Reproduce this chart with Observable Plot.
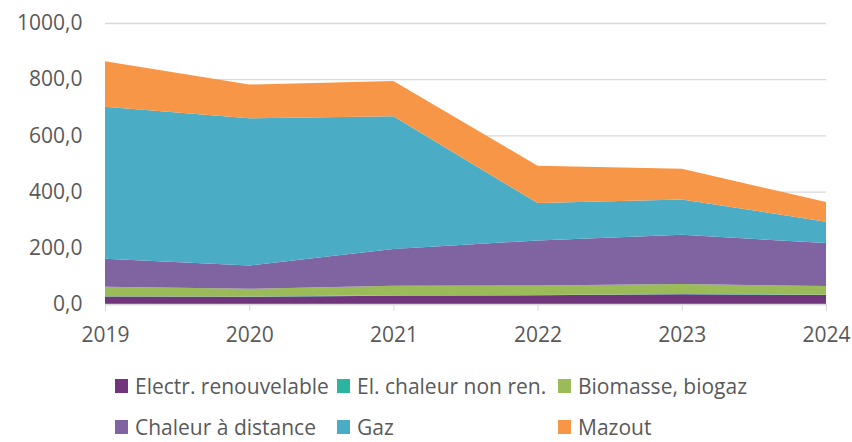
<!DOCTYPE html>
<html><head><meta charset="utf-8">
<script src="https://cdn.jsdelivr.net/npm/d3@7"></script>
<script src="https://cdn.jsdelivr.net/npm/@observablehq/plot@0.6"></script>
<style>
body{margin:0;background:#fff;font-family:"Open Sans",sans-serif;}
#wrap{position:relative;width:852px;height:442px;overflow:hidden;}
.leg{position:absolute;display:flex;align-items:center;font-size:21px;color:#595959;white-space:nowrap;line-height:1;height:22px;}
.leg i{display:inline-block;width:13px;height:14px;margin-right:7px;}
</style>
</head><body><div id="wrap"><div id="chart"></div></div>
<script>
const years = [2019, 2020, 2021, 2022, 2023, 2024];
const seriesNames = ["Electr. renouvelable", "El. chaleur non ren.", "Biomasse, biogaz", "Chaleur à distance", "Gaz", "Mazout"];
const electrRenouvelable = [27, 26, 29, 31, 35, 32];
const elChaleurNonRen = [1, 1, 2, 1, 1, 1];
const biomasse = [33, 27, 34, 34, 35, 31];
const chaleurDistance = [100, 83, 131, 160, 175, 153];
const gaz = [541, 524, 472, 133, 126, 76];
const mazout = [162, 120, 126, 133, 109, 70];
const yTicks = [0, 200, 400, 600, 800, 1000];
const colors = ["#70357a", "#2bb5a0", "#9bbb59", "#8064a2", "#4bacc6", "#f79646"];

const seriesValues = [electrRenouvelable, elChaleurNonRen, biomasse, chaleurDistance, gaz, mazout];
const data = [];
seriesNames.forEach((s, i) => years.forEach((y, j) => data.push({series: s, year: y, value: seriesValues[i][j]})));

const chart = Plot.plot({
  width: 852, height: 360,
  marginLeft: 105, marginRight: 26, marginTop: 23, marginBottom: 56,
  style: {fontFamily: "'Open Sans', sans-serif", fontSize: "21px", color: "#595959", background: "#fff"},
  x: {domain: [2019, 2024], label: null},
  y: {domain: [0, 1000], label: null},
  color: {domain: seriesNames, range: colors},
  marks: [
    Plot.gridY(yTicks, {stroke: "#d9d9d9", strokeOpacity: 1, strokeWidth: 1.3}),
    Plot.areaY(data, {x: "year", y: "value", fill: "series", z: "series", order: seriesNames}),
    Plot.ruleY([0], {stroke: "#d9d9d9", strokeWidth: 1.3}),
    Plot.axisX({ticks: years, tickFormat: d => String(d), tickSize: 7, tickPadding: 16, stroke: "#d9d9d9", fill: "#595959", fontSize: 21, label: null}),
    Plot.axisY({ticks: yTicks, tickFormat: d => d.toFixed(1).replace(".", ","), tickSize: 0, tickPadding: 23, fill: "#595959", fontSize: 21, label: null})
  ]
});
document.getElementById("chart").appendChild(chart);

const legendPos = [[115, 386], [337, 386], [558, 386], [115, 427], [337, 427], [558, 427]];
const wrap = document.getElementById("wrap");
seriesNames.forEach((s, i) => {
  const d = document.createElement("div");
  d.className = "leg";
  d.style.left = legendPos[i][0] + "px";
  d.style.top = (legendPos[i][1] - 11) + "px";
  d.innerHTML = `<i style="background:${colors[i]}"></i><span>${s}</span>`;
  wrap.appendChild(d);
});
</script>
</body></html>
